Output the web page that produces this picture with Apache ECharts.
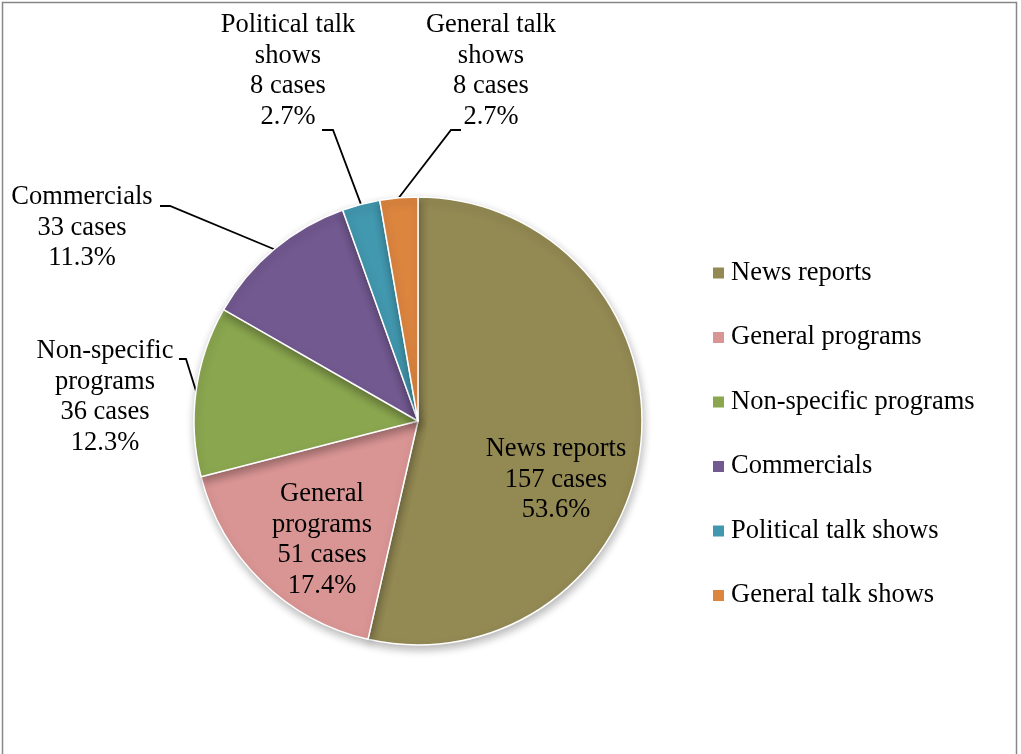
<!DOCTYPE html>
<html>
<head>
<meta charset="utf-8">
<title>Cases by programme type</title>
<script src="https://cdn.jsdelivr.net/npm/echarts@6/dist/echarts.min.js"></script>
<style>
  html, body { margin: 0; padding: 0; background: #fff; }
  #chart { width: 1021px; height: 754px; }
</style>
</head>
<body>
<div id="chart"></div>
<script>
// Programme categories, in clockwise order from 12 o'clock
const categories = ['News reports', 'General programs', 'Non-specific programs', 'Commercials', 'Political talk shows', 'General talk shows'];
// Text shown next to each slice (line-wrapped names)
const sliceLabels = ['News reports', 'General\nprograms', 'Non-specific\nprograms', 'Commercials', 'Political talk\nshows', 'General talk\nshows'];
// Number of cases per category
const cases = [157, 51, 36, 33, 8, 8];

const colors = ['#938953', '#D99594', '#8AA64F', '#725990', '#4298AF', '#DC853F'];

// Pie geometry (pixels)
const CX = 418, CY = 421, R = 224;

// Where each slice's label block sits (centre of text block) and the elbow of its leader line
const labelPlacement = [
  { x: 556, y: 480, inside: true },
  { x: 322, y: 540, inside: true },
  { x: 105, y: 397, elbow: [186, 359], end: [179, 359] },
  { x: 82,  y: 228, elbow: [170, 206], end: [160, 206] },
  { x: 288, y: 71,  elbow: [333, 130], end: [322, 130] },
  { x: 491, y: 71,  elbow: [451, 130], end: [461, 130] }
];

const total = cases.reduce((a, b) => a + b, 0);
// Point on the pie rim at the middle angle of slice i
function rimPoint(i) {
  let before = 0;
  for (let k = 0; k < i; k++) before += cases[k];
  const mid = (before + cases[i] / 2) / total * Math.PI * 2;
  return [CX + R * Math.sin(mid), CY - R * Math.cos(mid)];
}

const font = '"Liberation Serif", "Times New Roman", serif';

const chart = echarts.init(document.getElementById('chart'), null, { renderer: 'canvas' });

chart.setOption({
  backgroundColor: '#ffffff',
  animation: false,
  color: colors,
  graphic: [{
    type: 'rect',
    silent: true,
    shape: { x: 2.5, y: 2.5, width: 1014, height: 800 },
    style: { fill: 'none', stroke: '#878787', lineWidth: 1.5 }
  }],
  legend: {
    orient: 'vertical',
    left: 713,
    top: 258,
    padding: 0,
    icon: 'rect',
    itemWidth: 11,
    itemHeight: 11,
    itemGap: 34.5,
    selectedMode: false,
    data: categories,
    itemStyle: { borderWidth: 0, shadowBlur: 0, shadowOffsetX: 0, shadowOffsetY: 0 },
    textStyle: { fontFamily: font, fontSize: 26.5, color: '#000', lineHeight: 30, padding: [0, 0, 0, 2] }
  },
  series: [{
    type: 'pie',
    center: [CX, CY],
    radius: R,
    startAngle: 90,
    clockwise: true,
    percentPrecision: 1,
    data: categories.map((name, i) => ({ name: name, value: cases[i] })),
    itemStyle: {
      borderColor: '#ffffff',
      borderWidth: 1.5,
      shadowBlur: 9,
      shadowOffsetX: 1,
      shadowOffsetY: 4,
      shadowColor: 'rgba(0,0,0,0.28)'
    },
    emphasis: { disabled: true },
    label: {
      show: true,
      position: 'outside',
      fontFamily: font,
      fontSize: 26.5,
      lineHeight: 30.5,
      color: '#000',
      align: 'center',
      formatter: p => sliceLabels[p.dataIndex] + '\n' + p.value + ' cases\n' + p.percent.toFixed(1) + '%'
    },
    labelLine: {
      show: true,
      length: 10,
      length2: 10,
      lineStyle: { color: '#000', width: 1.8 }
    },
    labelLayout: function (params) {
      const i = params.dataIndex;
      const pl = labelPlacement[i];
      const out = { x: pl.x, y: pl.y, align: 'center', verticalAlign: 'middle' };
      if (pl.inside) {
        const rp = rimPoint(i);
        out.labelLinePoints = [rp, rp, rp];
      } else {
        out.labelLinePoints = [rimPoint(i), pl.elbow, pl.end];
      }
      return out;
    }
  }]
});
</script>
</body>
</html>
